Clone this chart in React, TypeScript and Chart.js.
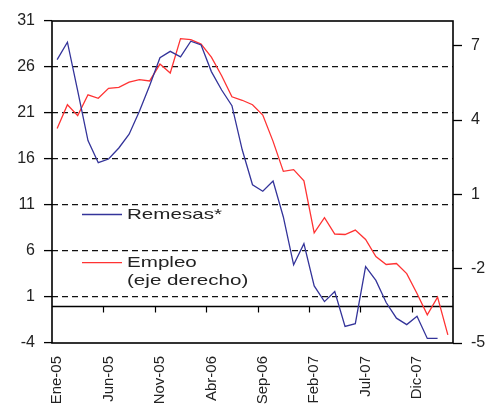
import React, { useEffect, useRef } from 'react';
import { Chart, registerables } from 'chart.js';

Chart.register(...registerables);

const months: string[] = [
  'Ene-05', 'Feb-05', 'Mar-05', 'Abr-05', 'May-05', 'Jun-05', 'Jul-05', 'Ago-05', 'Sep-05', 'Oct-05', 'Nov-05', 'Dic-05',
  'Ene-06', 'Feb-06', 'Mar-06', 'Abr-06', 'May-06', 'Jun-06', 'Jul-06', 'Ago-06', 'Sep-06', 'Oct-06', 'Nov-06', 'Dic-06',
  'Ene-07', 'Feb-07', 'Mar-07', 'Abr-07', 'May-07', 'Jun-07', 'Jul-07', 'Ago-07', 'Sep-07', 'Oct-07', 'Nov-07', 'Dic-07',
  'Ene-08', 'Feb-08', 'Mar-08',
];

const remesas: number[] = [
  26.8, 28.7, 23.4, 18.0, 15.6, 16.0, 17.2, 18.7, 21.2, 24.0, 27.0, 27.7,
  27.1, 28.8, 28.4, 25.5, 23.5, 21.8, 17.0, 13.2, 12.5, 13.6, 9.7, 4.5,
  6.8, 2.2, 0.5, 1.6, -2.2, -1.9, 4.3, 2.8, 0.4, -1.3, -2.0, -1.1,
  -3.5, -3.5,
];

const empleo: number[] = [
  3.66, 4.62, 4.18, 5.02, 4.88, 5.28, 5.32, 5.53, 5.63, 5.58, 6.26, 5.9,
  7.29, 7.25, 7.07, 6.54, 5.79, 4.94, 4.8, 4.62, 4.2, 3.14, 1.93, 2.0,
  1.55, -0.55, 0.06, -0.6, -0.62, -0.44, -0.82, -1.51, -1.83, -1.79, -2.2, -3.0,
  -3.86, -3.15, -4.67,
];

const leftTicks: number[] = [-4, 1, 6, 11, 16, 21, 26, 31];
const rightTicks: number[] = [-5, -2, 1, 4, 7];
const labelEvery = 5;

const seriesNames = ['Remesas*', 'Empleo', '(eje derecho)'];

const FONT = 'Arial, "Liberation Sans", sans-serif';
const BLUE = '#34349a';
const RED = '#ff3333';
const TEXT = '#222222';

const framePlugin = {
  id: 'frame',
  beforeDatasetsDraw(chart: any) {
    const { ctx, chartArea: a, scales } = chart;
    const x = scales.x;
    const y = scales.y;
    ctx.save();
    // zero line
    const y0 = Math.round(y.getPixelForValue(0)) + 0.5;
    ctx.strokeStyle = '#000';
    ctx.lineWidth = 1.5;
    ctx.setLineDash([]);
    ctx.beginPath();
    ctx.moveTo(a.left, y0);
    ctx.lineTo(a.right, y0);
    ctx.stroke();
    // category boundary tick marks hanging from zero line
    ctx.lineWidth = 1.2;
    for (let k = labelEvery; k < months.length; k += labelEvery) {
      const px = Math.round((x.getPixelForValue(k - 1) + x.getPixelForValue(k)) / 2) + 0.5;
      ctx.beginPath();
      ctx.moveTo(px, y0);
      ctx.lineTo(px, y0 + 6);
      ctx.stroke();
    }
    // frame
    ctx.lineWidth = 1.6;
    ctx.strokeRect(a.left, a.top, a.right - a.left, a.bottom - a.top);
    ctx.restore();
  },
  afterDatasetsDraw(chart: any) {
    const { ctx, chartArea: a } = chart;
    ctx.save();
    const lx0 = a.left + 30;
    const lx1 = a.left + 70;
    const tx = a.left + 75;
    const items = [
      { color: BLUE, ly: a.top + 193.5, lines: [{ t: seriesNames[0], b: a.top + 197.5 }] },
      {
        color: RED,
        ly: a.top + 241.7,
        lines: [
          { t: seriesNames[1], b: a.top + 245.7 },
          { t: seriesNames[2], b: a.top + 264 },
        ],
      },
    ];
    for (const it of items) {
      ctx.strokeStyle = it.color;
      ctx.lineWidth = 1.3;
      ctx.beginPath();
      ctx.moveTo(lx0, it.ly);
      ctx.lineTo(lx1, it.ly);
      ctx.stroke();
      for (const l of it.lines) {
        ctx.save();
        ctx.translate(tx, l.b);
        ctx.scale(1.42, 1);
        ctx.font = `14.5px ${FONT}`;
        ctx.fillStyle = TEXT;
        ctx.textBaseline = 'alphabetic';
        ctx.textAlign = 'left';
        ctx.fillText(l.t, 0, 0);
        ctx.restore();
      }
    }
    ctx.restore();
  },
};

export default function App() {
  const ref = useRef<HTMLCanvasElement | null>(null);

  useEffect(() => {
    if (!ref.current) return;
    const chart = new Chart(ref.current, {
      type: 'line',
      data: {
        labels: months,
        datasets: [
          {
            label: seriesNames[0],
            data: remesas,
            yAxisID: 'y',
            borderColor: BLUE,
            borderWidth: 1.3,
            pointRadius: 0,
            tension: 0,
            fill: false,
          },
          {
            label: seriesNames[1],
            data: empleo,
            yAxisID: 'y1',
            borderColor: RED,
            borderWidth: 1.3,
            pointRadius: 0,
            tension: 0,
            fill: false,
          },
        ],
      },
      options: {
        responsive: false,
        animation: false,
        devicePixelRatio: 1,
        layout: { padding: { top: 21, left: 0, right: 0, bottom: 0 } },
        plugins: {
          legend: { display: false },
          tooltip: { enabled: false },
        },
        scales: {
          x: {
            type: 'category',
            offset: true,
            grid: { display: false, drawTicks: false, offset: true },
            border: { display: false },
            ticks: {
              autoSkip: false,
              minRotation: 90,
              maxRotation: 90,
              padding: 13,
              color: TEXT,
              font: { family: FONT, size: 15 },
              callback: (_v: any, i: number) => (i % labelEvery === 0 ? months[i] : ''),
            },
            afterFit: (s: any) => {
              s.height = 62;
            },
          },
          y: {
            position: 'left',
            min: -4,
            max: 31,
            afterBuildTicks: (s: any) => {
              s.ticks = leftTicks.map((v) => ({ value: v }));
            },
            grid: {
              color: (c: any) =>
                c.tick && (c.tick.value === leftTicks[0] || c.tick.value === leftTicks[leftTicks.length - 1])
                  ? 'rgba(0,0,0,0)'
                  : '#111',
              lineWidth: 1.2,
              tickLength: 8,
              tickColor: '#000',
              tickWidth: 1.3,
              tickBorderDash: [],
            },
            border: { display: false, dash: [6, 4] },
            ticks: {
              padding: 9,
              color: TEXT,
              font: { family: FONT, size: 16 },
            },
            afterFit: (s: any) => {
              s.width = 52;
            },
          },
          y1: {
            position: 'right',
            min: -5,
            max: 8,
            afterBuildTicks: (s: any) => {
              s.ticks = rightTicks.map((v) => ({ value: v }));
            },
            grid: {
              drawOnChartArea: false,
              tickLength: 9,
              tickColor: '#000',
              tickWidth: 1.3,
            },
            border: { display: false },
            ticks: {
              padding: 9,
              color: TEXT,
              font: { family: FONT, size: 16 },
            },
            afterFit: (s: any) => {
              s.width = 41;
            },
          },
        },
      },
      plugins: [framePlugin],
    });
    return () => chart.destroy();
  }, []);

  return (
    <div style={{ position: 'fixed', left: 0, top: 0, width: 494, height: 405, background: '#fff' }}>
      <canvas ref={ref} width={494} height={405} style={{ width: 494, height: 405, display: 'block' }} />
    </div>
  );
}
